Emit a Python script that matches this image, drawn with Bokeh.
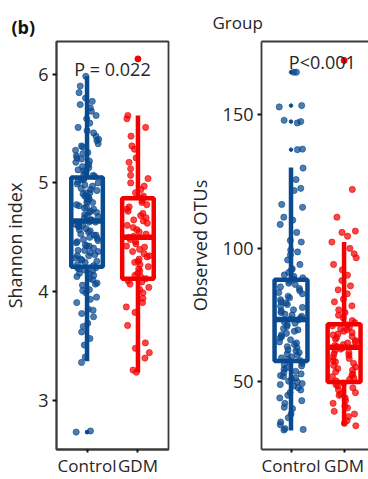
from bokeh.plotting import figure
from bokeh.models import FixedTicker, LinearAxis, Range1d, ColumnDataSource, Label
from bokeh.layouts import row
from bokeh.transform import jitter
from bokeh.embed import file_html
from bokeh.resources import INLINE

groups = ["Control", "GDM"]
group_pos = [1, 2]
colors = ["#0A4A8F", "#F50000"]

# Shannon index box statistics (Control, GDM)
sh_lower = [3.36, 3.26]
sh_q1 = [4.23, 4.12]
sh_median = [4.65, 4.50]
sh_q3 = [5.05, 4.86]
sh_upper = [5.98, 5.62]
sh_outliers_control = [2.71, 2.71]
sh_top_gdm = [6.14]

# Observed OTUs box statistics (Control, GDM)
otu_lower = [31.8, 33.6]
otu_q1 = [57.8, 50.0]
otu_median = [73.4, 63.0]
otu_q3 = [88.3, 71.6]
otu_upper = [130.3, 102.4]
otu_outliers_control = [166.0, 153.5, 147.5, 137.0]
otu_top_gdm = [170.4]

sh_control = [
    2.71, 2.72, 3.35, 3.40, 3.51, 3.57, 3.63, 3.68, 3.71, 3.77, 3.80, 3.83, 3.84, 3.90,
    3.93, 3.95, 3.99, 4.01, 4.02, 4.06, 4.07, 4.08, 4.11, 4.12, 4.14, 4.15, 4.17, 4.17,
    4.19, 4.20, 4.21, 4.22, 4.22, 4.24, 4.25, 4.27, 4.28, 4.29, 4.30, 4.31, 4.33, 4.33,
    4.34, 4.36, 4.37, 4.38, 4.38, 4.40, 4.42, 4.42, 4.43, 4.45, 4.46, 4.47, 4.48, 4.49,
    4.50, 4.52, 4.52, 4.53, 4.55, 4.56, 4.57, 4.58, 4.60, 4.60, 4.61, 4.62, 4.63, 4.64,
    4.64, 4.66, 4.66, 4.68, 4.69, 4.70, 4.71, 4.73, 4.73, 4.74, 4.76, 4.77, 4.78, 4.79,
    4.80, 4.82, 4.82, 4.84, 4.85, 4.86, 4.87, 4.88, 4.90, 4.91, 4.91, 4.93, 4.94, 4.95,
    4.97, 4.98, 4.99, 5.00, 5.01, 5.03, 5.03, 5.04, 5.06, 5.07, 5.08, 5.10, 5.11, 5.12,
    5.14, 5.15, 5.17, 5.19, 5.20, 5.22, 5.23, 5.25, 5.27, 5.28, 5.30, 5.33, 5.34, 5.36,
    5.39, 5.40, 5.43, 5.46, 5.48, 5.51, 5.55, 5.59, 5.62, 5.66, 5.69, 5.72, 5.75, 5.78,
    5.83, 5.89, 5.98,
]
sh_gdm = [
    3.26, 3.28, 3.39, 3.44, 3.48, 3.53, 3.69, 3.81, 3.86, 3.90, 3.94, 3.99, 4.02, 4.04,
    4.07, 4.09, 4.10, 4.12, 4.14, 4.15, 4.17, 4.19, 4.21, 4.23, 4.25, 4.27, 4.28, 4.30,
    4.32, 4.33, 4.35, 4.37, 4.39, 4.41, 4.42, 4.44, 4.46, 4.48, 4.50, 4.51, 4.53, 4.55,
    4.57, 4.59, 4.61, 4.63, 4.65, 4.66, 4.68, 4.70, 4.72, 4.74, 4.76, 4.78, 4.80, 4.82,
    4.84, 4.86, 4.88, 4.91, 4.94, 4.97, 5.00, 5.04, 5.07, 5.13, 5.19, 5.23, 5.31, 5.34,
    5.43, 5.51, 5.59, 5.62,
]
otu_control = [
    166.0, 166.0, 153.5, 153.0, 148.0, 147.5, 147.0, 137.0, 137.2,
    130.1, 125.8, 122.5, 121.7, 116.5, 115.4, 111.7, 110.6, 109.0, 106.0, 103.0, 102.4,
    99.4, 98.7, 97.6, 95.7, 94.0, 92.4, 92.0, 91.0, 90.1, 89.5, 89.0, 88.5,
    87.8, 87.0, 86.5, 85.6, 85.0, 84.2, 83.5, 83.0, 82.1, 81.5, 80.8, 80.0, 79.6, 79.0,
    78.3, 77.9, 77.0, 76.6, 76.0, 75.4, 75.0, 74.6, 74.0, 73.6,
    73.2, 72.5, 72.0, 71.4, 70.8, 70.0, 69.5, 69.0, 68.2, 67.6, 67.0, 66.5, 65.8, 65.0,
    64.6, 64.0, 63.2, 62.8, 62.0, 61.6, 61.0, 60.5, 60.0, 59.4, 59.0, 58.5, 58.0,
    57.5, 57.0, 56.5, 56.0, 55.2, 54.8, 54.0, 53.5, 53.0, 52.4, 52.0, 51.5, 51.0, 50.3,
    50.0, 49.4, 49.0, 48.5, 47.8, 47.0, 46.0, 45.0, 44.0, 43.0, 42.0, 40.5, 40.0, 38.0,
    36.6, 35.0, 34.0, 32.5, 32.2, 32.0,
]
otu_gdm = [
    122.1, 111.7, 106.5, 106.0, 104.6, 102.4, 100.0, 98.0, 96.5, 94.0, 92.0, 90.0, 88.0,
    86.0, 84.5, 83.0, 81.0, 80.0, 78.5, 77.0, 76.0, 75.0, 74.0, 73.0, 72.2,
    71.4, 71.0, 70.5, 70.0, 69.6, 69.0, 68.5, 68.0, 67.6, 67.0, 66.6, 66.0, 65.5, 65.0,
    64.6, 64.0, 63.6, 63.2,
    62.8, 62.3, 61.8, 61.0, 60.5, 60.0, 59.3, 58.8, 58.0, 57.5, 57.0, 56.2, 55.6, 55.0,
    54.4, 53.8, 53.0, 52.5, 52.0, 51.4, 51.0, 50.4,
    49.5, 49.0, 48.5, 47.8, 47.0, 46.0, 45.5, 45.0, 44.0, 43.0, 42.0, 41.0, 40.3, 39.0,
    38.0, 37.0, 35.5, 34.5, 33.6,
]

FONT = "Open Sans"
TXT = "#262626"
AX = "#3a3a3a"


def style(p, ticks):
    p.xgrid.visible = False
    p.ygrid.visible = False
    p.background_fill_color = "white"
    p.border_fill_color = "white"
    for ax in (p.xaxis[0], p.yaxis[0]):
        ax.axis_line_color = AX
        ax.axis_line_width = 1.8
        ax.major_tick_line_color = "#111111"
        ax.major_tick_line_width = 2
        ax.major_tick_out = 4
        ax.major_tick_in = 0
        ax.minor_tick_line_color = None
        ax.major_label_text_font = FONT
        ax.major_label_text_font_size = "18px"
        ax.major_label_text_color = TXT
        ax.axis_label_text_font = FONT
        ax.axis_label_text_font_size = "18px"
        ax.axis_label_text_font_style = "normal"
        ax.axis_label_text_color = TXT
    p.xaxis[0].ticker = FixedTicker(ticks=group_pos)
    p.xaxis[0].major_label_overrides = {g: n for g, n in zip(group_pos, groups)}
    p.xaxis[0].major_label_standoff = 1
    p.xaxis[0].major_tick_out = 3
    p.xaxis[0].major_label_text_font_size = "17px"
    p.yaxis[0].ticker = FixedTicker(ticks=ticks)
    p.yaxis[0].major_label_standoff = 4
    p.yaxis[0].axis_label_standoff = 8


def draw(p, lower, q1, med, q3, upper, ctrl_pts, gdm_pts, outl, top_pt):
    src = ColumnDataSource(dict(x=group_pos, lower=lower, q1=q1, med=med, q3=q3,
                                upper=upper, color=colors))
    p.vbar(x="x", width=0.62, bottom="q1", top="q3", source=src, fill_color="white",
           line_color="color", line_width=4.5)
    p.segment(x0="x", x1="x", y0="lower", y1="q1", source=src, line_color="color",
              line_width=4.5)
    p.segment(x0="x", x1="x", y0="q3", y1="upper", source=src, line_color="color",
              line_width=4.5)
    p.vbar(x="x", width=0.62, bottom="med", top="med", source=src, fill_color=None,
           line_color="color", line_width=5.5)
    p.scatter(x=[group_pos[0]] * len(outl), y=outl, size=3.5, color=colors[0])
    for pos, pts, c in ((group_pos[0], ctrl_pts, colors[0]), (group_pos[1], gdm_pts, colors[1])):
        s = ColumnDataSource(dict(x=[pos] * len(pts), y=pts))
        p.scatter(x=jitter("x", width=0.46, distribution="uniform"), y="y", source=s,
                  size=6.2, fill_color=c, fill_alpha=0.72, line_color=c, line_alpha=0.6)
    p.scatter(x=[group_pos[1]] * len(top_pt), y=top_pt, size=6, color=colors[1])


p1 = figure(width=184, height=479, output_backend="svg", toolbar_location=None,
            x_range=Range1d(0.4, 2.6), y_range=Range1d(2.55, 6.30),
            min_border_left=56, min_border_right=16, min_border_top=40, min_border_bottom=29,
            title="(b)")
p1.title.align = "left"
p1.title.offset = -45
p1.title.standoff = 6
p1.title.text_font = FONT
p1.title.text_font_size = "18px"
p1.title.text_font_style = "bold"
p1.title.text_color = "#111111"
style(p1, [3, 4, 5, 6])
p1.yaxis[0].axis_label = "Shannon index"
p1.outline_line_color = AX
p1.outline_line_width = 1.8
p1.outline_line_alpha = 1
draw(p1, sh_lower, sh_q1, sh_median, sh_q3, sh_upper, sh_control, sh_gdm,
     sh_outliers_control, sh_top_gdm)
p1.add_layout(Label(x=1.5, y=6.05, text="P = 0.022", text_align="center",
                    text_baseline="alphabetic", text_font=FONT, text_font_size="18px",
                    text_color=TXT))

p2 = figure(width=184, height=479, output_backend="svg", toolbar_location=None,
            x_range=Range1d(0.444, 2.46), y_range=Range1d(24.7, 177.5),
            min_border_left=75, min_border_right=0, min_border_top=39, min_border_bottom=30,
            title="Group")
p2.title.align = "left"
p2.title.offset = -49
p2.title.standoff = 16
p2.title.text_font = FONT
p2.title.text_font_size = "17px"
p2.title.text_font_style = "normal"
p2.title.text_color = TXT
style(p2, [50, 100, 150])
p2.yaxis[0].axis_label = "Observed OTUs"
p2.outline_line_color = None
top_axis = LinearAxis(ticker=FixedTicker(ticks=[]), axis_line_color=AX, axis_line_width=1.8,
                      major_tick_line_color=None, minor_tick_line_color=None,
                      major_label_text_font_size="0px")
p2.add_layout(top_axis, "above")
draw(p2, otu_lower, otu_q1, otu_median, otu_q3, otu_upper, otu_control, otu_gdm,
     otu_outliers_control, otu_top_gdm)
p2.add_layout(Label(x=1.59, y=169.7, text="P<0.001", text_align="center",
                    text_baseline="alphabetic", text_font=FONT, text_font_size="18px",
                    text_color=TXT))

layout = row(p1, p2)
open("out.html", "w").write(file_html(layout, INLINE))
